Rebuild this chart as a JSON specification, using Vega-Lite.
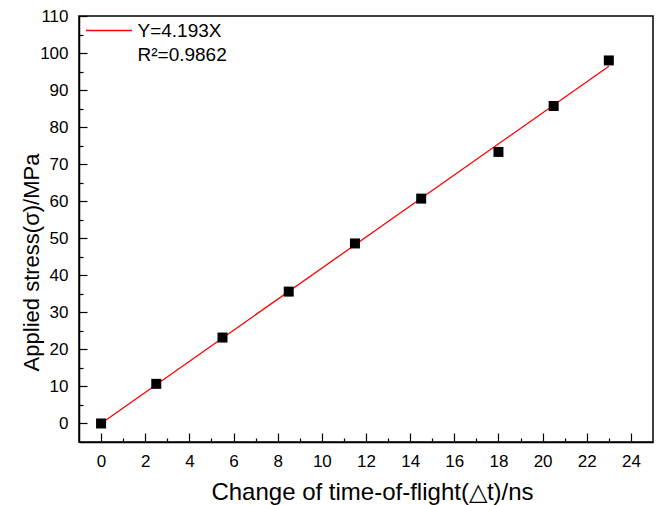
{
  "$schema": "https://vega.github.io/schema/vega-lite/v6.json",
  "width": 574,
  "height": 426,
  "autosize": {"type": "none"},
  "padding": {"left": 79, "top": 16, "right": 6, "bottom": 63},
  "background": "white",
  "config": {
    "font": "Liberation Sans",
    "view": {"stroke": "black", "strokeWidth": 1.5},
    "axis": {
      "grid": false,
      "domainColor": "black",
      "domainWidth": 1.5,
      "tickColor": "black",
      "tickWidth": 1.2,
      "labelColor": "black",
      "labelFont": "Liberation Sans",
      "labelFontSize": 17,
      "labelOverlap": false,
      "labelFlush": false,
      "titleFont": "Liberation Sans",
      "titleFontWeight": "normal",
      "titleColor": "black"
    }
  },
  "resolve": {"axis": {"x": "independent", "y": "independent"}},
  "layer": [
    {
      "data": {"values": [
        {"dt": 0, "stress": 0, "series": "Y=4.193X"},
        {"dt": 23, "stress": 96.44, "series": "Y=4.193X"}
      ]},
      "mark": {"type": "line", "strokeWidth": 1.3, "clip": true},
      "encoding": {
        "x": {
          "field": "dt", "type": "quantitative",
          "scale": {"domain": [-1, 25], "nice": false, "zero": false},
          "axis": {
            "orient": "bottom",
            "title": "Change of time-of-flight(△t)/ns",
            "titleFontSize": 24,
            "values": [0,2,4,6,8,10,12,14,16,18,20,22,24],
            "tickSize": -9,
            "labelPadding": 20,
            "titleX": 293,
            "titleY": 57,
            "titleBaseline": "alphabetic",
            "titleAlign": "center"
          }
        },
        "y": {
          "field": "stress", "type": "quantitative",
          "scale": {"domain": [-5, 110], "nice": false, "zero": false},
          "axis": {
            "orient": "left",
            "title": "Applied stress(σ)/MPa",
            "titleFontSize": 22,
            "values": [0,10,20,30,40,50,60,70,80,90,100,110],
            "tickSize": -8,
            "labelPadding": 19,
            "titleX": -41,
            "titleY": 246,
            "titleAngle": 270,
            "titleBaseline": "alphabetic",
            "titleAlign": "center"
          }
        },
        "color": {
          "field": "series", "type": "nominal",
          "scale": {"domain": ["Y=4.193X", "R²=0.9862"], "range": ["#ff0000", "rgba(0,0,0,0)"]},
          "legend": {
            "title": null,
            "orient": "none",
            "legendX": 20.5,
            "legendY": 5,
            "padding": 0,
            "symbolType": "M-3,0H3",
            "symbolSize": 235,
            "symbolOffset": 0,
            "symbolStrokeWidth": 1.3,
            "labelFontSize": 19,
            "labelFont": "Liberation Sans",
            "labelColor": "black",
            "labelOffset": 19,
            "rowPadding": 4
          }
        }
      }
    },
    {
      "data": {"values": [
        {"dt": 0, "stress": 0},
        {"dt": 2.5, "stress": 10.7},
        {"dt": 5.5, "stress": 23.2},
        {"dt": 8.5, "stress": 35.6},
        {"dt": 11.5, "stress": 48.6},
        {"dt": 14.5, "stress": 60.7},
        {"dt": 18, "stress": 73.3},
        {"dt": 20.5, "stress": 85.7},
        {"dt": 23, "stress": 98.0}
      ]},
      "mark": {"type": "point", "shape": "square", "filled": true, "color": "black", "size": 100, "opacity": 1},
      "encoding": {
        "x": {
          "field": "dt", "type": "quantitative",
          "axis": {
            "orient": "bottom",
            "title": null,
            "labels": false,
            "domain": false,
            "values": [1,3,5,7,9,11,13,15,17,19,21,23],
            "tickSize": -4
          }
        },
        "y": {
          "field": "stress", "type": "quantitative",
          "axis": {
            "orient": "left",
            "title": null,
            "labels": false,
            "domain": false,
            "values": [5,15,25,35,45,55,65,75,85,95,105],
            "tickSize": -4
          }
        }
      }
    }
  ]
}
